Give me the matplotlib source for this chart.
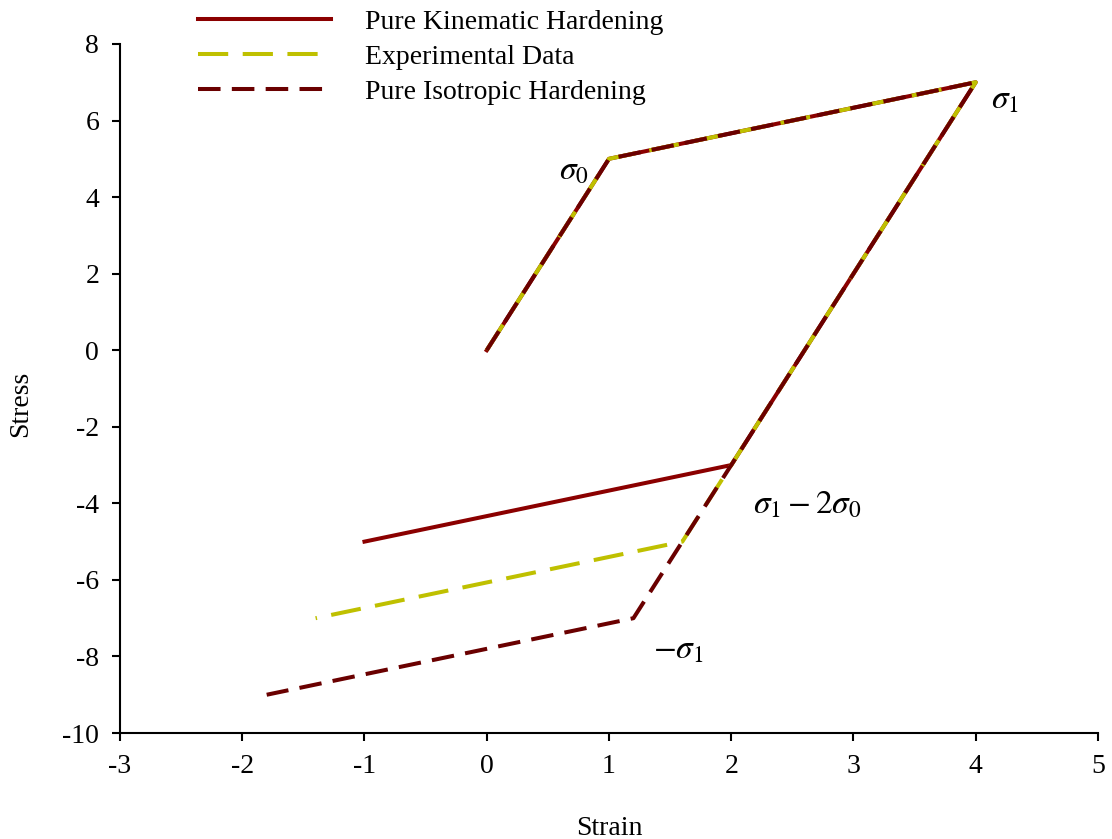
import matplotlib
matplotlib.use("Agg")
import matplotlib.pyplot as plt

plt.rcParams['font.family'] = ['Liberation Serif', 'DejaVu Serif']
plt.rcParams['mathtext.fontset'] = 'stix'
plt.rcParams['axes.unicode_minus'] = False

# loading path shared by all three models, then the reversed branch of each
kin_strain = [0, 1, 4, 2, -1]
kin_stress = [0, 5, 7, -3, -5]
exp_strain = [0, 1, 4, 1.6, -1.4]
exp_stress = [0, 5, 7, -5, -7]
iso_strain = [0, 1, 4, 1.2, -1.8]
iso_stress = [0, 5, 7, -7, -9]

labels = ['Pure Kinematic Hardening', 'Experimental Data', 'Pure Isotropic Hardening']

fig = plt.figure(figsize=(11.12, 8.39), dpi=100)
ax = fig.add_axes([0.1079, 0.1263, 0.8795, 0.8213])

lw = 2.9
l1, = ax.plot(kin_strain, kin_stress, color='#8b0000', lw=lw)
l2, = ax.plot(exp_strain, exp_stress, color='#bfc000', lw=lw, dashes=(7.5, 3.6))
l3, = ax.plot(iso_strain, iso_stress, color='#6a0000', lw=lw, dashes=(5.6, 2.8))

ax.set_xlim(-3, 5)
ax.set_ylim(-10, 8)
ax.set_xticks(range(-3, 6))
ax.set_yticks(range(-10, 9, 2))
for s in ['top', 'right']:
    ax.spines[s].set_visible(False)
for s in ['left', 'bottom']:
    ax.spines[s].set_linewidth(1.5)
ax.tick_params(direction='out', length=6, width=1.5, labelsize=20, pad=9)

ax.set_xlabel('Strain', fontsize=20)
ax.set_ylabel('Stress', fontsize=20)
ax.xaxis.set_label_coords(0.5, -0.12)
ax.yaxis.set_label_coords(-0.089, 0.478)

ax.text(0.714, 4.68, r'$\sigma_0$', fontsize=24, ha='center', va='center')
ax.text(4.24, 6.54, r'$\sigma_1$', fontsize=24, ha='center', va='center')
ax.text(2.62, -4.04, r'$\sigma_1 - 2\sigma_0$', fontsize=24, ha='center', va='center')
ax.text(1.564, -7.83, r'$-\sigma_1$', fontsize=24, ha='center', va='center')

fig.legend([l1, l2, l3], labels, loc='upper left', bbox_to_anchor=(0.178, 0.989),
           frameon=False, fontsize=20, handlelength=4.8, handletextpad=1.2,
           labelspacing=0.35, borderpad=0, borderaxespad=0)

fig.savefig('out.png', dpi=100)
